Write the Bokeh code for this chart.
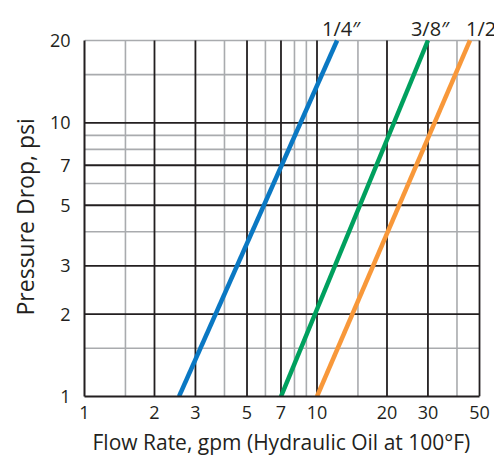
from bokeh.plotting import figure
from bokeh.models import FixedTicker, Label, NumeralTickFormatter, Title
from bokeh.embed import file_html
from bokeh.resources import INLINE

# ---- data ----
x_ticks = [1, 2, 3, 5, 7, 10, 20, 30, 50]
y_ticks = [1, 2, 3, 5, 7, 10, 20]
x_major_grid = [2, 3, 5, 7, 10, 20, 30, 50]
x_minor_grid = [1.5, 4, 6, 8, 9, 15, 40]
y_major_grid = [2, 3, 5, 7, 10]
y_minor_grid = [1.5, 4, 6, 8, 9, 15, 20]

series_names = ["1/4″", "3/8″", "1/2″"]
series_flow = [[2.55, 12.2], [7.0, 30.0], [10.0, 45.5]]
series_pressure = [[1, 20], [1, 20], [1, 20]]
series_colors = ["#0a78c3", "#00a05e", "#f8983a"]
label_offsets = [-15, -17, -4]

x_title = "Flow Rate, gpm (Hydraulic Oil at 100°F)"
y_title = "Pressure Drop, psi"

FONT = "Open Sans"
TXT = "#231f20"
BLACK = "#231f20"
GRAY = "#a9abae"

x_lo, x_hi = x_ticks[0], x_ticks[-1]
y_lo, y_hi = y_ticks[0], y_ticks[-1]

# the plotting frame extends past the chart box (to 58 / 28) so the curve
# labels above the chart are not clipped; grid lines stop at the chart box.
p = figure(width=494, height=460, x_axis_type="log", y_axis_type="log",
           x_range=(x_lo, 58), y_range=(y_lo, 28),
           output_backend="svg", toolbar_location=None,
           min_border_left=84, min_border_right=0, min_border_top=0, min_border_bottom=64)
p.outline_line_color = None
p.background_fill_color = "white"
p.border_fill_color = "white"
p.grid.visible = False


def vgrid(ticks, color, width):
    n = len(ticks)
    p.segment(x0=ticks, y0=[y_lo] * n, x1=ticks, y1=[y_hi] * n,
              line_color=color, line_width=width)


def hgrid(ticks, color, width):
    n = len(ticks)
    p.segment(x0=[x_lo] * n, y0=ticks, x1=[x_hi] * n, y1=ticks,
              line_color=color, line_width=width)


vgrid(x_minor_grid, GRAY, 1.6)
hgrid(y_minor_grid, GRAY, 1.6)
vgrid(x_major_grid, BLACK, 1.8)
hgrid(y_major_grid, BLACK, 1.8)

for xs, ys, c in zip(series_flow, series_pressure, series_colors):
    p.line(xs, ys, line_color=c, line_width=4.5)

for name, xs, ys, c, off in zip(series_names, series_flow, series_pressure, series_colors, label_offsets):
    p.add_layout(Label(x=xs[-1], y=ys[-1], text=name, x_offset=off, y_offset=12,
                       text_font=FONT, text_font_size="20px", text_color=TXT,
                       text_align="left", text_baseline="alphabetic"))

for ax, ticks, bnds in [(p.xaxis[0], x_ticks, (x_lo, x_hi)), (p.yaxis[0], y_ticks, (y_lo, y_hi))]:
    ax.ticker = FixedTicker(ticks=ticks)
    ax.bounds = bnds
    ax.formatter = NumeralTickFormatter(format="0")
    ax.major_tick_line_color = None
    ax.minor_tick_line_color = None
    ax.axis_line_color = BLACK
    ax.axis_line_width = 2
    ax.major_label_text_font = FONT
    ax.major_label_text_font_size = "18px"
    ax.major_label_text_color = TXT

p.xaxis.major_label_standoff = 3
p.yaxis.major_label_standoff = 8

# axis titles placed along the chart box rather than the (larger) frame
p.add_layout(Title(text=x_title, align="left", offset=8, standoff=8,
                   text_font=FONT, text_font_size="21px", text_font_style="normal",
                   text_color=TXT), "below")
p.add_layout(Title(text=y_title, align="left", offset=81, standoff=12,
                   text_font=FONT, text_font_size="23px", text_font_style="normal",
                   text_color=TXT), "left")

open("out.html", "w").write(file_html(p, INLINE))
